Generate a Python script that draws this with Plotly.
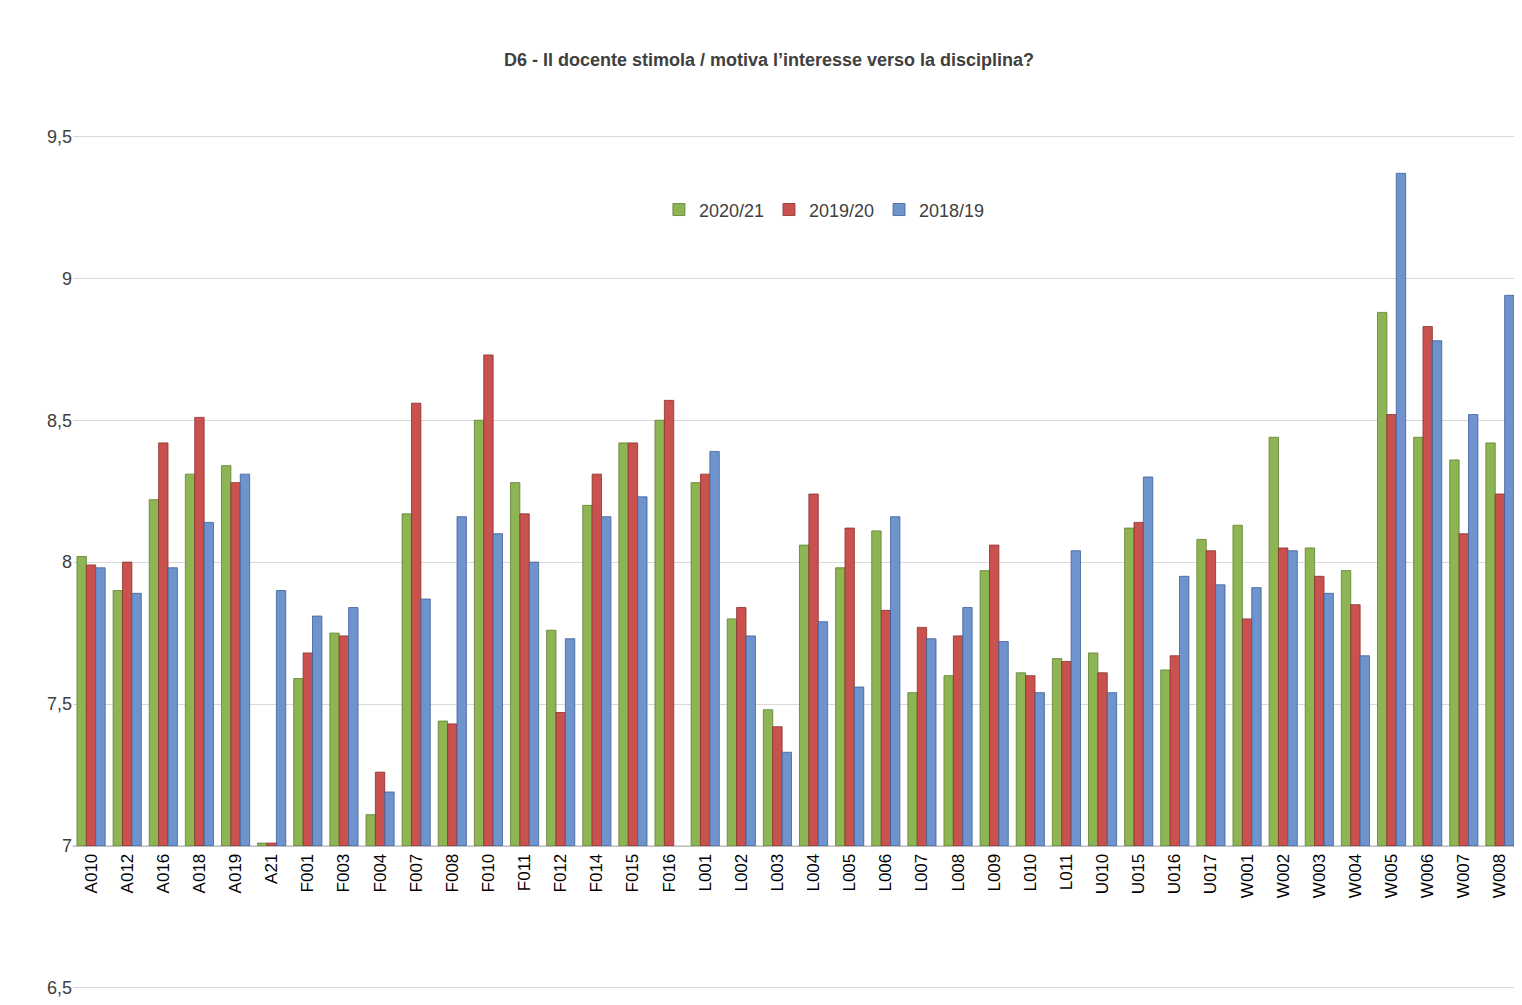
import plotly.graph_objects as go

categories = ["A010", "A012", "A016", "A018", "A019", "A21", "F001", "F003", "F004", "F007",
              "F008", "F010", "F011", "F012", "F014", "F015", "F016", "L001", "L002", "L003",
              "L004", "L005", "L006", "L007", "L008", "L009", "L010", "L011", "U010", "U015",
              "U016", "U017", "W001", "W002", "W003", "W004", "W005", "W006", "W007", "W008"]
y2020 = [8.02, 7.90, 8.22, 8.31, 8.34, 7.01, 7.59, 7.75, 7.11, 8.17,
         7.44, 8.50, 8.28, 7.76, 8.20, 8.42, 8.50, 8.28, 7.80, 7.48,
         8.06, 7.98, 8.11, 7.54, 7.60, 7.97, 7.61, 7.66, 7.68, 8.12,
         7.62, 8.08, 8.13, 8.44, 8.05, 7.97, 8.88, 8.44, 8.36, 8.42]
y2019 = [7.99, 8.00, 8.42, 8.51, 8.28, 7.01, 7.68, 7.74, 7.26, 8.56,
         7.43, 8.73, 8.17, 7.47, 8.31, 8.42, 8.57, 8.31, 7.84, 7.42,
         8.24, 8.12, 7.83, 7.77, 7.74, 8.06, 7.60, 7.65, 7.61, 8.14,
         7.67, 8.04, 7.80, 8.05, 7.95, 7.85, 8.52, 8.83, 8.10, 8.24]
y2018 = [7.98, 7.89, 7.98, 8.14, 8.31, 7.90, 7.81, 7.84, 7.19, 7.87,
         8.16, 8.10, 8.00, 7.73, 8.16, 8.23, None, 8.39, 7.74, 7.33,
         7.79, 7.56, 8.16, 7.73, 7.84, 7.72, 7.54, 8.04, 7.54, 8.30,
         7.95, 7.92, 7.91, 8.04, 7.89, 7.67, 9.37, 8.78, 8.52, 8.94]

series = [("2020/21", y2020, "#8db553", "#5f7f30"),
          ("2019/20", y2019, "#c9524f", "#8c2f2d"),
          ("2018/19", y2018, "#6f93cc", "#3d5f99")]

base = 7
fig = go.Figure()
for name, vals, col, edge in series:
    fig.add_trace(go.Bar(
        x=categories,
        y=[None if v is None else v - base for v in vals],
        base=base,
        name=name,
        marker=dict(color=col, line=dict(color=edge, width=0.8)),
    ))

ymin, ymax = 6.45, 9.875
fig.update_layout(
    width=1522, height=1005,
    paper_bgcolor="white", plot_bgcolor="white",
    margin=dict(l=65, r=12, t=22, b=11),
    barmode="group", bargap=0.22, bargroupgap=0.0,
    font=dict(family="Liberation Sans, Arial", size=17, color="#404040"),
    title=dict(text="<b>D6 - Il docente stimola / motiva l’interesse verso la disciplina?</b>",
               x=0.5, xanchor="center", y=0.955, font=dict(size=18, color="#404040")),
    legend=dict(orientation="h", x=0.52, xanchor="center", y=0.815, yanchor="middle",
                font=dict(size=18), bgcolor="rgba(0,0,0,0)"),
    showlegend=True,
)
fig.update_yaxes(range=[ymin, ymax], tickvals=[6.5, 7, 7.5, 8, 8.5, 9, 9.5],
                 ticktext=["6,5", "7", "7,5", "8", "8,5", "9", "9,5"],
                 showgrid=True, gridcolor="#d9d9d9", zeroline=False, ticks="",
                 tickfont=dict(size=18), showline=False)
fig.update_xaxes(anchor="free", position=(base - ymin) / (ymax - ymin),
                 tickangle=-90, tickfont=dict(size=17, color="#000000"),
                 showline=True, linecolor="#bfbfbf", ticks="", showgrid=False)

fig.write_html("out.html")
